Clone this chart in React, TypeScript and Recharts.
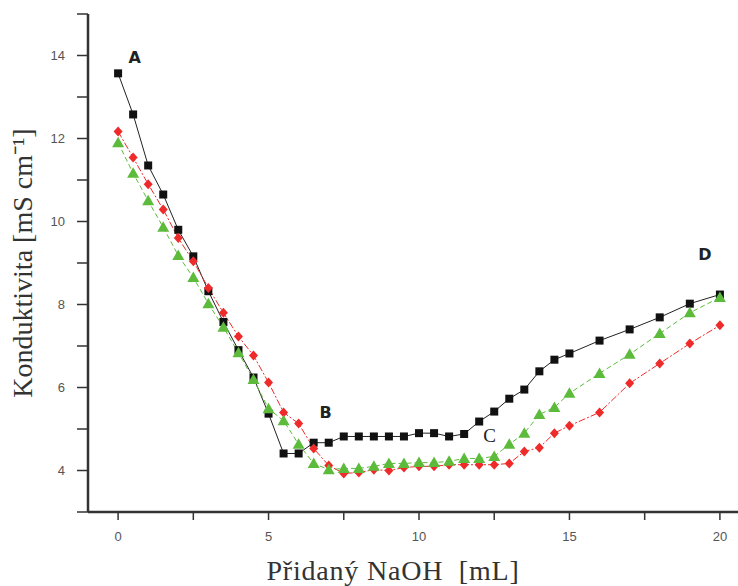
import { ComposedChart, Line, XAxis, YAxis, ReferenceDot } from "recharts";

// added NaOH volume [mL]
const volumes = [
  0, 0.5, 1, 1.5, 2, 2.5, 3, 3.5, 4, 4.5, 5, 5.5, 6, 6.5, 7, 7.5, 8, 8.5, 9, 9.5, 10,
  10.5, 11, 11.5, 12, 12.5, 13, 13.5, 14, 14.5, 15, 16, 17, 18, 19, 20,
];

// conductivity [mS cm-1]
const blackSeries = [
  13.57, 12.58, 11.35, 10.65, 9.8, 9.16, 8.32, 7.58, 6.9, 6.24, 5.37, 4.41, 4.41, 4.67, 4.67,
  4.82, 4.82, 4.82, 4.82, 4.82, 4.9, 4.9, 4.82, 4.88, 5.18, 5.42, 5.73, 5.95, 6.39, 6.67, 6.82,
  7.13, 7.4, 7.69, 8.02, 8.24,
];
const redSeries = [
  12.17, 11.54, 10.9, 10.29, 9.6, 9.04, 8.4, 7.8, 7.23, 6.77, 6.12, 5.4, 5.13, 4.53, 4.12,
  3.93, 3.95, 4.02, 4.0, 4.07, 4.1, 4.1, 4.14, 4.14, 4.14, 4.14, 4.17, 4.46, 4.55, 4.9, 5.08,
  5.4, 6.1, 6.58, 7.06, 7.5,
];
const greenSeries = [
  11.9, 11.16, 10.5, 9.86, 9.18, 8.65, 8.02, 7.45, 6.84, 6.19, 5.49, 5.2, 4.63, 4.17, 4.02,
  4.05, 4.05, 4.1, 4.17, 4.17, 4.19, 4.19, 4.22, 4.29, 4.29, 4.34, 4.63, 4.9, 5.35, 5.52, 5.86,
  6.34, 6.8, 7.3, 7.8, 8.17,
];

const xTicks = [0, 2.5, 5, 7.5, 10, 12.5, 15, 17.5, 20];
const xLabelTicks = [0, 5, 10, 15, 20];
const yTicks = [3, 4, 5, 6, 7, 8, 9, 10, 11, 12, 13, 14, 15];
const yLabelTicks = [4, 6, 8, 10, 12, 14];

const pointLabels = [
  { name: "A", x: 0.55, y: 13.95 },
  { name: "B", x: 6.9, y: 5.4 },
  { name: "C", x: 12.35, y: 4.85 },
  { name: "D", x: 19.5, y: 9.2 },
];

const toPoints = (ys: number[]) => volumes.map((x, i) => ({ x, y: ys[i] }));

const SquareDot = (props: any) => {
  const { cx, cy, key } = props;
  if (cx == null || cy == null) return <g key={key} />;
  return <rect key={key} x={cx - 4} y={cy - 4} width={8} height={8} fill="#111" />;
};

const DiamondDot = (props: any) => {
  const { cx, cy, key } = props;
  if (cx == null || cy == null) return <g key={key} />;
  return (
    <path
      key={key}
      d={`M${cx},${cy - 5} L${cx + 4.5},${cy} L${cx},${cy + 5} L${cx - 4.5},${cy} Z`}
      fill="#ee2a2a"
    />
  );
};

const TriangleDot = (props: any) => {
  const { cx, cy, key } = props;
  if (cx == null || cy == null) return <g key={key} />;
  return (
    <path
      key={key}
      d={`M${cx},${cy - 6} L${cx + 6},${cy + 4.5} L${cx - 6},${cy + 4.5} Z`}
      fill="#5dbb3c"
    />
  );
};

const tickStyle = { fontSize: 13, fill: "#555", fontFamily: "Liberation Sans, Arial, sans-serif" };
const titleFont = "Liberation Serif, Times New Roman, serif";

const XTitle = (props: any) => {
  const vb = props.viewBox || {};
  return (
    <text
      x={vb.x + vb.width / 2 - 26}
      y={vb.y + vb.height - 6}
      textAnchor="middle"
      fontSize={28}
      fill="#333"
      fontFamily={titleFont}
      letterSpacing={0.8}
    >
      {"Přidaný NaOH\u00a0\u00a0[mL]"}
    </text>
  );
};

export default function App() {
  return (
    <div style={{ position: "absolute", left: 0, top: 0, width: 738, height: 586, overflow: "hidden", background: "#fff" }}>
      <ComposedChart width={750} height={586} margin={{ top: 14, right: 0, bottom: 0, left: 0 }}>
        <XAxis
          type="number"
          dataKey="x"
          domain={[-1, 21]}
          ticks={xTicks}
          tickFormatter={(v: number) => (xLabelTicks.includes(v) ? String(v) : "")}
          tick={tickStyle}
          tickSize={8}
          tickMargin={12}
          height={74}
          axisLine={{ stroke: "#333", strokeWidth: 2.5 }}
          tickLine={{ stroke: "#333", strokeWidth: 1.5 }}
          allowDataOverflow
          label={<XTitle />}
        />
        <XAxis
          xAxisId="top"
          type="number"
          orientation="top"
          domain={[-1, 21]}
          tick={false}
          tickLine={false}
          height={0}
          axisLine={{ stroke: "#555", strokeWidth: 2.5 }}
        />
        <YAxis
          type="number"
          domain={[3, 15]}
          ticks={yTicks}
          tickFormatter={(v: number) => (yLabelTicks.includes(v) ? String(v) : "")}
          tick={tickStyle}
          tickSize={11}
          tickMargin={12}
          width={88}
          axisLine={{ stroke: "#333", strokeWidth: 2.5 }}
          tickLine={{ stroke: "#333", strokeWidth: 1.5 }}
          allowDataOverflow
          label={{
            value: "Konduktivita [mS cm⁻¹]",
            angle: -90,
            position: "insideLeft",
            offset: 22,
            style: {
              fontSize: 28,
              fill: "#333",
              fontFamily: titleFont,
              textAnchor: "middle",
            },
          }}
        />
        <Line
          data={toPoints(blackSeries)}
          dataKey="y"
          type="linear"
          stroke="#222"
          strokeWidth={1}
          dot={SquareDot}
          activeDot={false}
          isAnimationActive={false}
        />
        <Line
          data={toPoints(redSeries)}
          dataKey="y"
          type="linear"
          stroke="#ee2a2a"
          strokeWidth={1}
          strokeDasharray="7 2 2 2"
          dot={DiamondDot}
          activeDot={false}
          isAnimationActive={false}
        />
        <Line
          data={toPoints(greenSeries)}
          dataKey="y"
          type="linear"
          stroke="#5dbb3c"
          strokeWidth={1}
          strokeDasharray="5 3"
          dot={TriangleDot}
          activeDot={false}
          isAnimationActive={false}
        />
        {pointLabels.map((p) => (
          <ReferenceDot
            key={p.name}
            x={p.x}
            y={p.y}
            r={0}
            fill="none"
            stroke="none"
            label={{
              value: p.name,
              position: "center",
              style: {
                fontSize: p.name === "C" ? 19 : 16,
                fontWeight: p.name === "C" ? "normal" : "bold",
                fill: "#222",
                fontFamily: p.name === "C" ? titleFont : "DejaVu Sans, sans-serif",
              },
            }}
          />
        ))}
      </ComposedChart>
    </div>
  );
}
